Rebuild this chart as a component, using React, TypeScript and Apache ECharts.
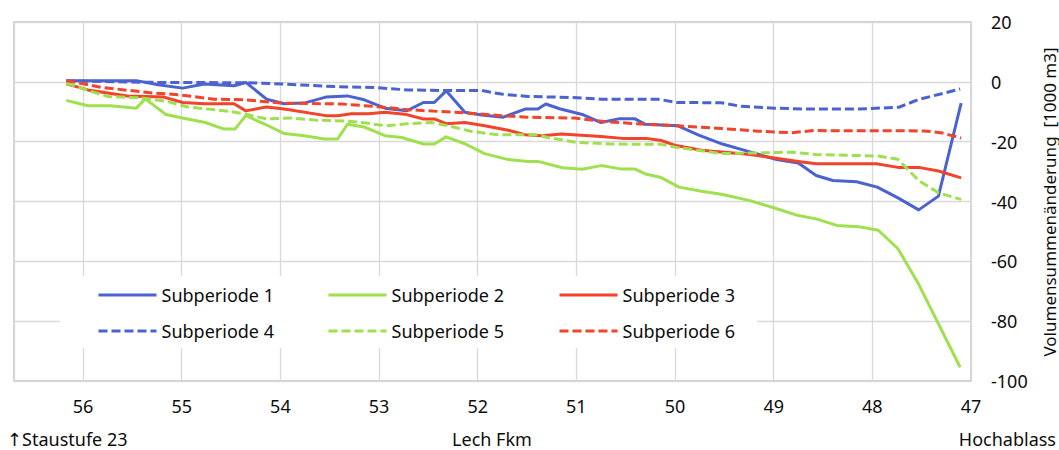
import React, { useEffect, useRef } from "react";
import * as echarts from "echarts";

// Lech Fkm (x) and Volumensummenänderung [1000 m3] (y)
const seriesNames = [
  "Subperiode 1",
  "Subperiode 2",
  "Subperiode 3",
  "Subperiode 4",
  "Subperiode 5",
  "Subperiode 6",
];

const sub1: [number, number][] = [
  [56.17, 0.4], [55.46, 0.4], [55.24, -1], [54.99, -2.1], [54.77, -0.7], [54.47, -1.3],
  [54.35, -0.2], [54.14, -5.8], [53.96, -7.3], [53.76, -7.1], [53.54, -5.1], [53.32, -4.7],
  [53.15, -6], [52.94, -8.8], [52.72, -9.7], [52.55, -6.9], [52.44, -6.9], [52.32, -3.0],
  [52.13, -10.2], [51.96, -11.1], [51.74, -11.8], [51.52, -9.1], [51.39, -9.1], [51.31, -7.4],
  [51.17, -9.0], [50.94, -10.9], [50.75, -13.6], [50.56, -12.3], [50.41, -12.3], [50.3, -14.2],
  [49.97, -14.7], [49.76, -17.8], [49.52, -20.8], [49.24, -23.4], [48.97, -26], [48.75, -27.1],
  [48.57, -31.3], [48.4, -33], [48.16, -33.4], [47.95, -35.2], [47.74, -38.8], [47.53, -42.8],
  [47.33, -38.2], [47.1, -7.1],
];

const sub2: [number, number][] = [
  [56.17, -6.2], [55.95, -8], [55.72, -8], [55.46, -8.8], [55.37, -5.7], [55.16, -10.9],
  [54.98, -12.2], [54.76, -13.6], [54.57, -15.8], [54.46, -15.8], [54.35, -11.3], [54.16, -14.1],
  [53.96, -17.3], [53.76, -18], [53.55, -19.1], [53.42, -19.1], [53.32, -14.2], [53.15, -15.1],
  [52.94, -18], [52.77, -18.6], [52.55, -20.8], [52.44, -20.8], [52.32, -18.4], [52.13, -20.7],
  [51.93, -24], [51.69, -26], [51.49, -26.6], [51.39, -26.6], [51.14, -28.7], [50.94, -29.2],
  [50.75, -28], [50.55, -29.1], [50.41, -29.1], [50.3, -30.8], [50.14, -32], [49.96, -35.2],
  [49.73, -36.6], [49.53, -37.6], [49.24, -39.7], [49.0, -42.1], [48.75, -44.7], [48.57, -45.8],
  [48.36, -48], [48.14, -48.4], [47.94, -49.6], [47.74, -55.8], [47.53, -67.7], [47.11, -95.4],
];

const sub3: [number, number][] = [
  [56.17, -0.7], [55.95, -2.7], [55.55, -4.7], [55.18, -5.1], [54.99, -6.9], [54.77, -7.3],
  [54.47, -7.3], [54.35, -9.7], [54.14, -8.4], [53.96, -9.1], [53.54, -11.3], [53.42, -11.3],
  [53.28, -10.7], [53.11, -10.7], [52.94, -10.2], [52.74, -10.8], [52.55, -12.4], [52.44, -12.4],
  [52.32, -14], [52.13, -13.6], [51.93, -14.7], [51.69, -16.2], [51.52, -17.7], [51.35, -18],
  [51.15, -17.4], [50.75, -18.3], [50.53, -18.9], [50.29, -18.9], [50.14, -19.6], [49.99, -21.3],
  [49.73, -22.9], [49.24, -24.3], [49.01, -25.4], [48.75, -26.6], [48.57, -27.4], [47.96, -27.4],
  [47.74, -28.6], [47.53, -28.6], [47.33, -29.8], [47.1, -32.1],
];

const sub4: [number, number][] = [
  [56.17, 0.3], [55.25, -0.2], [54.35, -0.3], [53.99, -0.7], [53.45, -1.6], [53.05, -1.9],
  [52.71, -2.7], [52.34, -2.9], [51.96, -2.9], [51.76, -4.1], [51.49, -4.9], [51.08, -5.2],
  [50.75, -5.8], [50.17, -5.8], [49.98, -6.9], [49.53, -7], [49.33, -8.2], [48.99, -8.8],
  [48.65, -9.1], [48.14, -9.1], [47.73, -8.5], [47.53, -5.9], [47.11, -2.4],
];

const sub5: [number, number][] = [
  [56.17, -0.4], [55.95, -2.9], [55.75, -4.9], [55.41, -5.4], [55.14, -6.6], [54.94, -8.4],
  [54.53, -9.8], [54.4, -10.5], [54.14, -12.4], [53.89, -12.1], [53.64, -12.8], [53.33, -13.1],
  [53.15, -13.7], [52.93, -14.7], [52.71, -14], [52.47, -13.6], [52.3, -14.7], [52.06, -16.6],
  [51.79, -17.7], [51.39, -17.7], [51.29, -18.6], [51.0, -20.2], [50.65, -20.8], [50.14, -20.9],
  [49.97, -22], [49.8, -22.7], [49.53, -24], [49.22, -23.8], [48.82, -23.5], [48.57, -24.3],
  [47.94, -24.8], [47.74, -25.9], [47.53, -33], [47.33, -37.1], [47.1, -39.3],
];

const sub6: [number, number][] = [
  [56.17, 0.4], [55.82, -1.8], [55.34, -3.6], [55.04, -4.3], [54.67, -5.8], [54.36, -6],
  [53.99, -7.1], [53.59, -7.3], [53.38, -7.4], [52.98, -8.4], [52.71, -9.3], [52.13, -10.4],
  [51.76, -11.3], [51.49, -11.8], [51.02, -12.1], [50.68, -13.4], [50.34, -14.1], [49.97, -14.7],
  [49.53, -15.6], [49.16, -16.5], [48.82, -17.0], [48.6, -16.3], [47.47, -16.4], [47.29, -17.1],
  [47.1, -18.8],
];

const seriesData = [sub1, sub2, sub3, sub4, sub5, sub6];

const BLUE = "#4a63d0";
const GREEN = "#9fe04e";
const RED = "#f2432b";
const seriesColors = [BLUE, GREEN, RED, BLUE, GREEN, RED];
const seriesDashed = [false, false, false, true, true, true];

const FONT = "'Noto Sans', 'DejaVu Sans', sans-serif";
const TEXT = "#0d0d0d";

export default function App() {
  const ref = useRef<HTMLDivElement>(null);

  useEffect(() => {
    if (!ref.current) return;
    const chart = echarts.init(ref.current, undefined, { renderer: "svg" });

    const legendLefts = [97, 327, 558];
    const legendTops = [286, 322];
    const legends = seriesNames.map((name, i) => ({
      show: true,
      data: [name],
      left: legendLefts[i % 3],
      top: legendTops[Math.floor(i / 3)],
      padding: 0,
      itemWidth: 58,
      itemHeight: 14,
      orient: "horizontal",
      itemStyle: { opacity: 0 },
      lineStyle: { width: 3 },
      textStyle: { fontFamily: FONT, fontSize: 18, color: TEXT },
      selectedMode: false,
    }));

    const option: any = {
      animation: false,
      backgroundColor: "#ffffff",
      grid: {
        left: 14,
        right: 88,
        top: 22,
        bottom: 69,
        show: true,
        borderColor: "#bfbfbf",
        borderWidth: 1.3,
        backgroundColor: "transparent",
      },
      legend: legends,
      xAxis: {
        type: "value",
        inverse: true,
        min: 47,
        max: 56.7,
        interval: 1,
        axisLine: { show: false },
        axisTick: { show: false },
        splitLine: { show: true, lineStyle: { color: "#d9d9d9", width: 1.3 } },
        axisLabel: {
          margin: 16,
          fontFamily: FONT,
          fontSize: 18,
          color: TEXT,
          showMaxLabel: false,
          formatter: (v: number) => (Math.abs(v - Math.round(v)) < 1e-6 ? String(Math.round(v)) : ""),
        },
      },
      yAxis: {
        type: "value",
        position: "right",
        min: -100,
        max: 20,
        interval: 20,
        axisLine: { show: false },
        axisTick: { show: false },
        splitLine: { show: true, lineStyle: { color: "#d9d9d9", width: 1.3 } },
        axisLabel: {
          margin: 20,
          align: "left",
          fontFamily: FONT,
          fontSize: 18,
          color: TEXT,
        },
      },
      graphic: [
        {
          type: "rect",
          z: 3,
          shape: { x: 60, y: 276, width: 697, height: 72 },
          style: { fill: "#ffffff" },
        },
        {
          type: "text",
          x: 7,
          y: 439,
          style: {
            text: "↑Staustufe 23",
            fontFamily: FONT,
            fontSize: 18,
            fill: TEXT,
            align: "left",
            verticalAlign: "middle",
          },
        },
        {
          type: "text",
          x: 492,
          y: 439,
          style: {
            text: "Lech Fkm",
            fontFamily: FONT,
            fontSize: 18,
            fill: TEXT,
            align: "center",
            verticalAlign: "middle",
          },
        },
        {
          type: "text",
          x: 1056,
          y: 439,
          style: {
            text: "Hochablass",
            fontFamily: FONT,
            fontSize: 18,
            fill: TEXT,
            align: "right",
            verticalAlign: "middle",
          },
        },
        {
          type: "text",
          x: 1049,
          y: 202,
          rotation: Math.PI / 2,
          style: {
            text: "Volumensummenänderung  [1000 m3]",
            fontFamily: FONT,
            fontSize: 17,
            fill: TEXT,
            align: "center",
            verticalAlign: "middle",
          },
        },
      ],
      series: seriesNames.map((name, i) => ({
        name,
        type: "line",
        data: seriesData[i],
        symbol: "none",
        showSymbol: false,
        smooth: false,
        z: 2,
        color: seriesColors[i],
        lineStyle: {
          color: seriesColors[i],
          width: 3,
          type: seriesDashed[i] ? [9, 4] : "solid",
          cap: "butt",
          join: "round",
        },
      })),
    };

    chart.setOption(option);
    return () => chart.dispose();
  }, []);

  return (
    <div
      ref={ref}
      style={{ position: "fixed", left: 0, top: 0, width: 1059, height: 450, background: "#fff" }}
    />
  );
}
